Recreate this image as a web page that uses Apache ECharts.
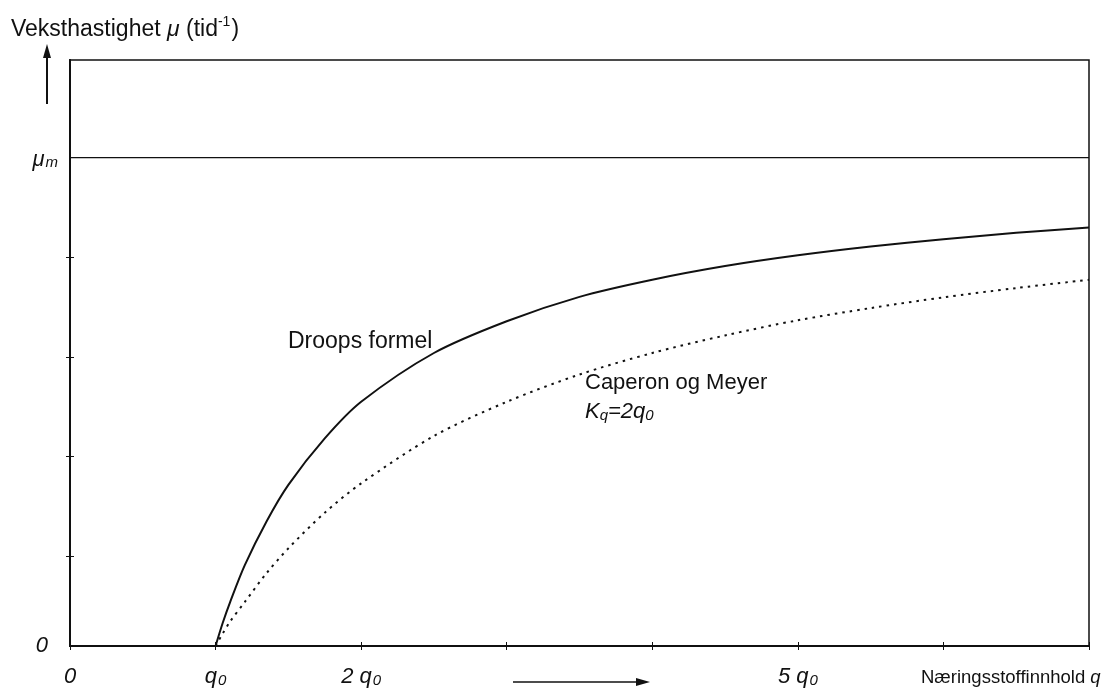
<!DOCTYPE html>
<html>
<head>
<meta charset="utf-8">
<script src="https://cdn.jsdelivr.net/npm/echarts@6/dist/echarts.min.js"></script>
<style>
  html, body { margin: 0; padding: 0; background: #fff; }
  #chart { width: 1107px; height: 690px; }
</style>
</head>
<body>
<div id="chart"></div>
<script>
// nutrient content q, in units of q0
const qValues = [1, 1.05, 1.1, 1.2, 1.35, 1.5, 1.75, 2, 2.5, 3, 3.5, 4, 4.5, 5, 5.5, 6, 6.5, 7];
// growth rate mu / mu_m
const droopValues = [0, 0.048, 0.09, 0.165, 0.255, 0.33, 0.425, 0.5, 0.6, 0.665, 0.715, 0.75, 0.778, 0.8, 0.818, 0.833, 0.846, 0.857];
const caperonValues = [0, 0.026, 0.05, 0.09, 0.149, 0.2, 0.273, 0.333, 0.43, 0.5, 0.556, 0.6, 0.636, 0.667, 0.692, 0.714, 0.733, 0.75];
const muMax = 1;
const xLabelValues = [0, 1, 2, 5];
const yLabelValues = [0, 1];
const yTickValues = [0.184, 0.388, 0.592, 0.796];

const FONT = "'Liberation Sans', Arial, sans-serif";
const INK = '#111';

const chart = echarts.init(document.getElementById('chart'));

const xLabelText = { 0: '{i|0}', 1: '{i|q}{sub|0}', 2: '{i|2 q}{sub|0}', 5: '{i|5 q}{sub|0}' };
const subRich = {
    i: { fontFamily: FONT, fontStyle: 'italic', fontSize: 22, color: INK, lineHeight: 26, verticalAlign: 'bottom' },
    sub: { fontFamily: FONT, fontStyle: 'italic', fontSize: 15, color: INK, lineHeight: 15, padding: [10, 0, 0, 1], verticalAlign: 'bottom' }
};

const frameAxis = {
    axisLine: { show: true, lineStyle: { color: INK, width: 1.5 } },
    splitLine: { show: false },
    axisLabel: { show: false }
};

chart.setOption({
    backgroundColor: '#fff',
    animation: false,
    grid: { left: 70, right: 18, top: 60, bottom: 44, show: true, borderColor: INK, borderWidth: 1.5 },
    xAxis: [
        {
            type: 'value', min: 0, max: 7, interval: 1, position: 'bottom',
            axisLine: { show: true, lineStyle: { color: INK, width: 1.8 } },
            axisTick: { inside: true, length: 4, lineStyle: { color: INK } },
            splitLine: { show: false },
            axisLabel: {
                customValues: xLabelValues, margin: 16,
                formatter: v => xLabelText[v] || '',
                rich: subRich
            }
        },
        Object.assign({
            type: 'value', min: 0, max: 7, interval: 1, position: 'top',
            axisTick: { show: true, inside: true, length: 4, lineStyle: { color: INK } }
        }, frameAxis)
    ],
    yAxis: [
        {
            type: 'value', min: 0, max: 1.2, position: 'left',
            axisLine: { show: true, lineStyle: { color: INK, width: 1.8 } },
            axisTick: { show: false },
            splitLine: { show: false },
            axisLabel: {
                customValues: yLabelValues, margin: 12,
                formatter: v => v === 0 ? '{z|0}' : '{i|μ}{sub|m}',
                rich: Object.assign({ z: { fontFamily: FONT, fontStyle: 'italic', fontSize: 22, color: INK, padding: [0, 10, 0, 0] } }, subRich)
            }
        },
        Object.assign({
            type: 'value', min: 0, max: 1.2, position: 'right',
            axisTick: { show: true, inside: true, length: 4, customValues: yTickValues, lineStyle: { color: INK } }
        }, frameAxis),
        Object.assign({
            type: 'value', min: 0, max: 1.2, position: 'left',
            axisTick: { show: true, inside: true, length: 4, customValues: yTickValues, lineStyle: { color: INK } }
        }, frameAxis)
    ],
    series: [
        {
            name: 'mu_m', type: 'line', symbol: 'none',
            data: [[0, muMax], [7, muMax]],
            lineStyle: { color: INK, width: 1.3 }
        },
        {
            name: 'Droops formel', type: 'line', symbol: 'none', smooth: 0.3,
            data: qValues.map((q, i) => [q, droopValues[i]]),
            lineStyle: { color: INK, width: 2 }
        },
        {
            name: 'Caperon og Meyer', type: 'line', symbol: 'none', smooth: 0.3,
            data: qValues.map((q, i) => [q, caperonValues[i]]),
            lineStyle: { color: INK, width: 2, type: [2.5, 5] }
        },
        // empty series so the frame axes are drawn
        { type: 'line', xAxisIndex: 1, yAxisIndex: 1, data: [], symbol: 'none' },
        { type: 'line', xAxisIndex: 1, yAxisIndex: 2, data: [], symbol: 'none' }
    ],
    graphic: [
        {
            type: 'text', left: 11, top: 15,
            style: {
                text: '{n|Veksthastighet }{i|μ}{n| (tid}{sup|-1}{n|)}',
                rich: {
                    n: { fontFamily: FONT, fontSize: 23, fill: INK, lineHeight: 28, verticalAlign: 'bottom' },
                    i: { fontFamily: FONT, fontStyle: 'italic', fontSize: 23, fill: INK, lineHeight: 28, verticalAlign: 'bottom' },
                    sup: { fontFamily: FONT, fontSize: 14, fill: INK, lineHeight: 14, padding: [0, 1, 12, 0], verticalAlign: 'bottom' }
                }
            }
        },
        { type: 'line', shape: { x1: 47, y1: 104, x2: 47, y2: 56 }, style: { stroke: INK, lineWidth: 2 } },
        { type: 'polygon', shape: { points: [[47, 44], [43, 58], [51, 58]] }, style: { fill: INK } },
        { type: 'line', shape: { x1: 513, y1: 682, x2: 638, y2: 682 }, style: { stroke: INK, lineWidth: 1.6 } },
        { type: 'polygon', shape: { points: [[650, 682], [636, 678], [636, 686]] }, style: { fill: INK } },
        {
            type: 'text', left: 288, top: 330,
            style: { text: 'Droops formel', font: '23px ' + FONT, fill: INK }
        },
        {
            type: 'text', left: 585, top: 372,
            style: { text: 'Caperon og Meyer', font: '22px ' + FONT, fill: INK }
        },
        {
            type: 'text', left: 585, top: 398,
            style: {
                text: '{i|K}{sub|q}{i|=2q}{sub|0}',
                rich: {
                    i: { fontFamily: FONT, fontStyle: 'italic', fontSize: 22, fill: INK, lineHeight: 26, verticalAlign: 'bottom' },
                    sub: { fontFamily: FONT, fontStyle: 'italic', fontSize: 15, fill: INK, lineHeight: 15, padding: [10, 0, 0, 0], verticalAlign: 'bottom' }
                }
            }
        },
        {
            type: 'text', left: 921, top: 668,
            style: {
                text: '{n|Næringsstoffinnhold }{i|q}',
                rich: {
                    n: { fontFamily: FONT, fontSize: 18.5, fill: INK },
                    i: { fontFamily: FONT, fontStyle: 'italic', fontSize: 18.5, fill: INK }
                }
            }
        }
    ]
});
</script>
</body>
</html>
